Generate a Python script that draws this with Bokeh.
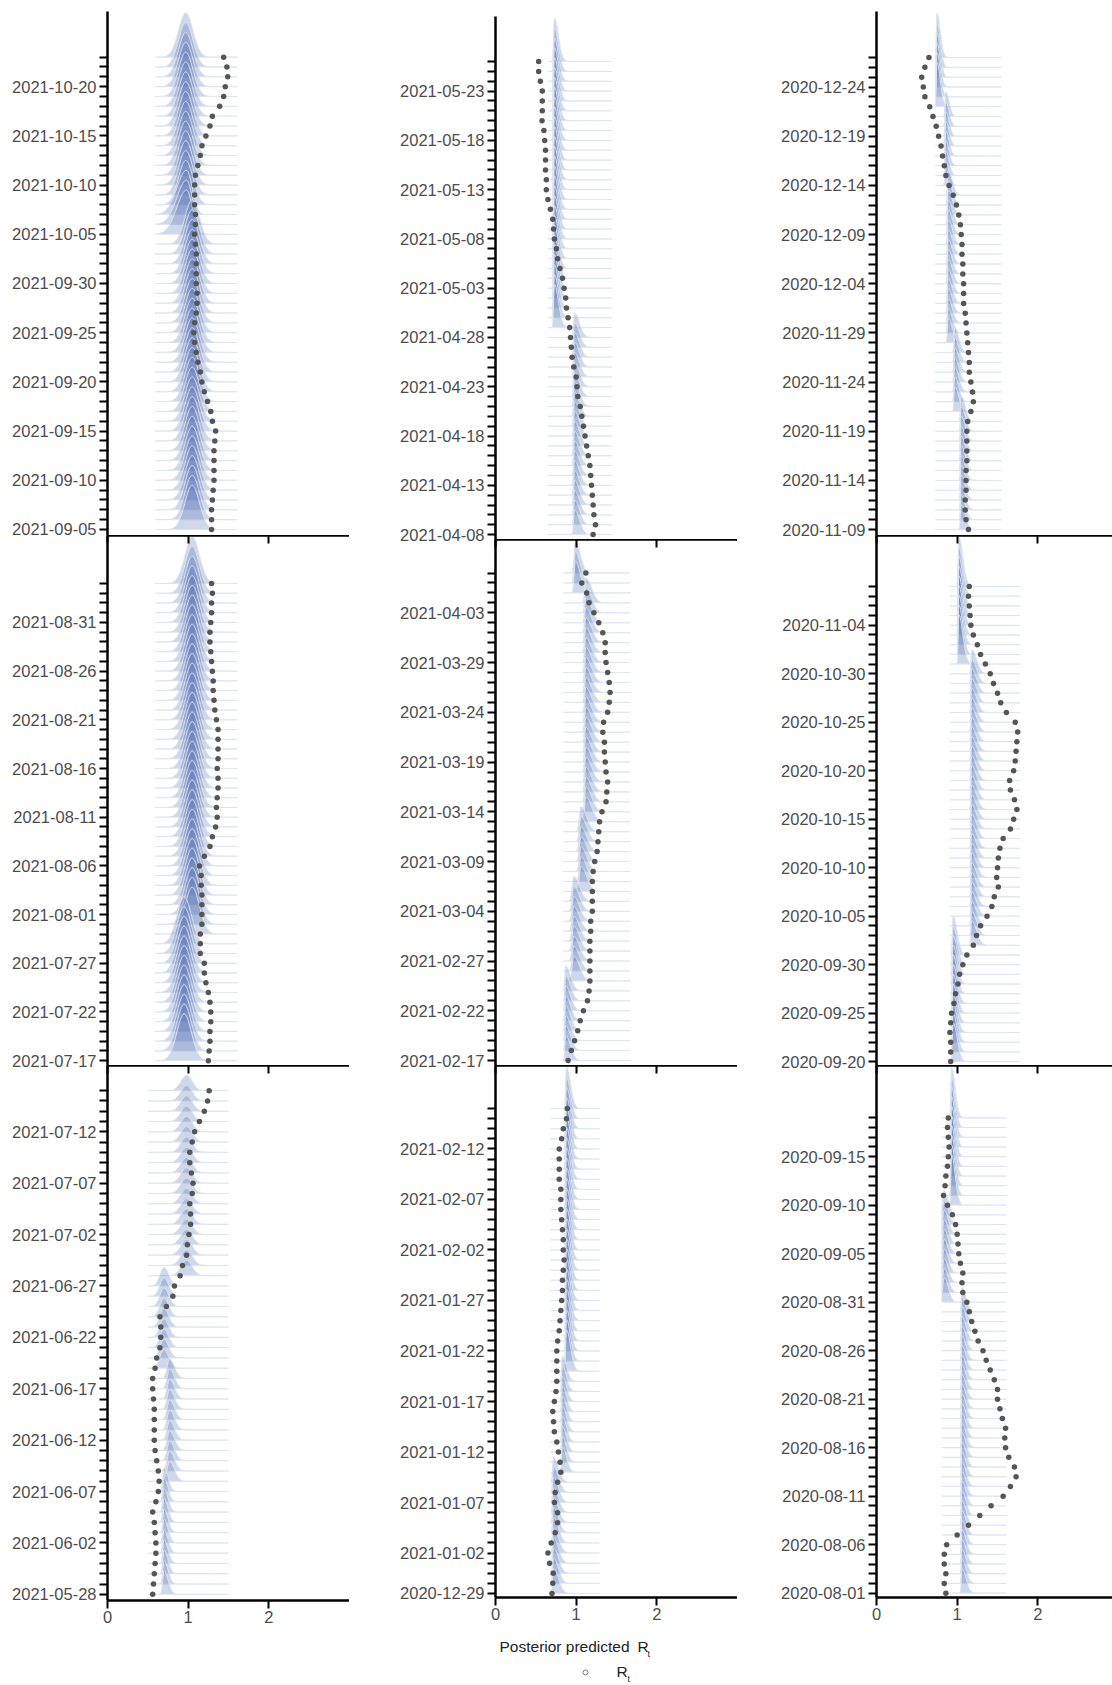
import datetime as dt
import numpy as np
from bokeh.plotting import figure
from bokeh.layouts import row, column
from bokeh.models import LinearAxis, FixedTicker, ColumnDataSource, Range1d
from bokeh.core.properties import value
from bokeh.embed import file_html
from bokeh.resources import INLINE

# ---------------- data ----------------
# observed R_t, one value per plotted day, oldest first
rt_2021_09_05 = [1.29, 1.29, 1.29, 1.30, 1.31, 1.32, 1.32, 1.32, 1.32, 1.33,
                 1.34, 1.30, 1.28, 1.24, 1.20, 1.17, 1.15, 1.12, 1.10, 1.08,
                 1.07, 1.08, 1.10, 1.11, 1.11, 1.10, 1.10, 1.10, 1.10, 1.09,
                 1.08, 1.09, 1.09, 1.08, 1.08, 1.08, 1.09, 1.12, 1.15, 1.17,
                 1.22, 1.27, 1.30, 1.39, 1.44, 1.46, 1.49, 1.48, 1.44]
rt_2021_07_17 = [1.25, 1.26, 1.27, 1.27, 1.28, 1.28, 1.27, 1.25, 1.22, 1.20,
                 1.20, 1.15, 1.15, 1.15, 1.17, 1.17, 1.17, 1.17, 1.16, 1.16,
                 1.14, 1.20, 1.27, 1.30, 1.34, 1.36, 1.35, 1.36, 1.37, 1.37,
                 1.36, 1.37, 1.37, 1.37, 1.37, 1.35, 1.33, 1.32, 1.31, 1.31,
                 1.30, 1.29, 1.28, 1.27, 1.27, 1.28, 1.29, 1.29, 1.30, 1.29]
rt_2021_05_28 = [0.56, 0.57, 0.58, 0.59, 0.60, 0.60, 0.59, 0.58, 0.56, 0.60,
                 0.63, 0.64, 0.63, 0.61, 0.59, 0.58, 0.58, 0.58, 0.58, 0.57,
                 0.56, 0.56, 0.59, 0.61, 0.65, 0.66, 0.66, 0.65, 0.73, 0.81,
                 0.83, 0.90, 0.93, 0.98, 0.99, 1.01, 1.03, 1.03, 1.02, 1.05,
                 1.06, 1.04, 1.02, 1.02, 1.05, 1.08, 1.14, 1.20, 1.24, 1.26]
rt_2021_04_08 = [1.21, 1.24, 1.22, 1.21, 1.20, 1.19, 1.18, 1.17, 1.15, 1.13,
                 1.11, 1.09, 1.07, 1.05, 1.02, 1.01, 1.00, 0.97, 0.95, 0.94,
                 0.93, 0.92, 0.90, 0.88, 0.87, 0.85, 0.83, 0.80, 0.77, 0.755,
                 0.73, 0.72, 0.71, 0.68, 0.65, 0.63, 0.63, 0.62, 0.62, 0.62,
                 0.61, 0.60, 0.577, 0.58, 0.58, 0.58, 0.556, 0.535, 0.535]
rt_2021_02_17 = [0.90, 0.94, 0.98, 1.02, 1.05, 1.09, 1.14, 1.16, 1.17, 1.17,
                 1.17, 1.17, 1.17, 1.18, 1.18, 1.20, 1.20, 1.20, 1.20, 1.21,
                 1.23, 1.26, 1.27, 1.28, 1.29, 1.32, 1.37, 1.38, 1.39, 1.37,
                 1.36, 1.35, 1.35, 1.33, 1.34, 1.39, 1.41, 1.42, 1.41, 1.39,
                 1.37, 1.36, 1.36, 1.33, 1.28, 1.22, 1.16, 1.13, 1.07, 1.12]
rt_2020_12_29 = [0.70, 0.71, 0.715, 0.67, 0.65, 0.69, 0.74, 0.77, 0.77, 0.73,
                 0.74, 0.77, 0.81, 0.80, 0.78, 0.76, 0.73, 0.72, 0.71, 0.73,
                 0.75, 0.76, 0.76, 0.76, 0.76, 0.77, 0.79, 0.80, 0.81, 0.82,
                 0.83, 0.83, 0.84, 0.85, 0.84, 0.84, 0.83, 0.82, 0.81,
                 0.81, 0.81, 0.79, 0.79, 0.79, 0.79, 0.82, 0.84, 0.88, 0.89]
rt_2020_11_09 = [1.14, 1.11, 1.10, 1.10, 1.11, 1.11, 1.11, 1.12, 1.12, 1.12,
                 1.12, 1.13, 1.17, 1.20, 1.19, 1.17, 1.15, 1.15, 1.14, 1.13,
                 1.12, 1.11, 1.10, 1.08, 1.08, 1.08, 1.07, 1.07, 1.06, 1.06,
                 1.05, 1.04, 1.02, 0.99, 0.95, 0.90, 0.86, 0.84, 0.82, 0.80,
                 0.77, 0.74, 0.70, 0.66, 0.60, 0.58, 0.56, 0.60, 0.65]
rt_2020_09_20 = [0.92, 0.92, 0.92, 0.91, 0.92, 0.93, 0.96, 0.98, 1.01, 1.03,
                 1.07, 1.12, 1.20, 1.24, 1.29, 1.37, 1.43, 1.46, 1.51, 1.49,
                 1.50, 1.51, 1.53, 1.57, 1.66, 1.70, 1.74, 1.71, 1.66, 1.65,
                 1.70, 1.72, 1.73, 1.74, 1.75, 1.72, 1.61, 1.54, 1.50, 1.45,
                 1.41, 1.35, 1.29, 1.25, 1.20, 1.17, 1.16, 1.15, 1.14, 1.15]
rt_2020_08_01 = [0.86, 0.84, 0.86, 0.84, 0.84, 0.87, 1.00, 1.14, 1.28, 1.42,
                 1.57, 1.66, 1.73, 1.71, 1.64, 1.60, 1.59, 1.60, 1.56, 1.53,
                 1.50, 1.50, 1.46, 1.41, 1.36, 1.32, 1.26, 1.22, 1.18, 1.15,
                 1.12, 1.07, 1.06, 1.07, 1.04, 1.02, 1.01, 1.00, 0.98, 0.94,
                 0.88, 0.83, 0.85, 0.86, 0.88, 0.89, 0.90, 0.89, 0.88, 0.89]

# panels in display order: column 1 top->bottom, column 2, column 3
panel_first_day = ["2021-09-05", "2021-07-17", "2021-05-28",
                   "2021-04-08", "2021-02-17", "2020-12-29",
                   "2020-11-09", "2020-09-20", "2020-08-01"]
panel_rt = [rt_2021_09_05, rt_2021_07_17, rt_2021_05_28,
            rt_2021_04_08, rt_2021_02_17, rt_2020_12_29,
            rt_2020_11_09, rt_2020_09_20, rt_2020_08_01]
# a day that has no row in the chart
missing_days = ["2021-01-30"]
# x-span of the posterior predicted densities in each panel
panel_span_lo = [0.59, 0.59, 0.50, 0.65, 0.84, 0.68, 0.73, 0.91, 0.81]
panel_span_hi = [1.61, 1.61, 1.50, 1.44, 1.67, 1.29, 1.55, 1.78, 1.61]

# labelled dates of the y axes
y_tick_labels = [
    "2021-09-05", "2021-09-10", "2021-09-15", "2021-09-20", "2021-09-25",
    "2021-09-30", "2021-10-05", "2021-10-10", "2021-10-15", "2021-10-20",
    "2021-07-17", "2021-07-22", "2021-07-27", "2021-08-01", "2021-08-06",
    "2021-08-11", "2021-08-16", "2021-08-21", "2021-08-26", "2021-08-31",
    "2021-05-28", "2021-06-02", "2021-06-07", "2021-06-12", "2021-06-17",
    "2021-06-22", "2021-06-27", "2021-07-02", "2021-07-07", "2021-07-12",
    "2021-04-08", "2021-04-13", "2021-04-18", "2021-04-23", "2021-04-28",
    "2021-05-03", "2021-05-08", "2021-05-13", "2021-05-18", "2021-05-23",
    "2021-02-17", "2021-02-22", "2021-02-27", "2021-03-04", "2021-03-09",
    "2021-03-14", "2021-03-19", "2021-03-24", "2021-03-29", "2021-04-03",
    "2020-12-29", "2021-01-02", "2021-01-07", "2021-01-12", "2021-01-17",
    "2021-01-22", "2021-01-27", "2021-02-02", "2021-02-07", "2021-02-12",
    "2020-11-09", "2020-11-14", "2020-11-19", "2020-11-24", "2020-11-29",
    "2020-12-04", "2020-12-09", "2020-12-14", "2020-12-19", "2020-12-24",
    "2020-09-20", "2020-09-25", "2020-09-30", "2020-10-05", "2020-10-10",
    "2020-10-15", "2020-10-20", "2020-10-25", "2020-10-30", "2020-11-04",
    "2020-08-01", "2020-08-06", "2020-08-11", "2020-08-16", "2020-08-21",
    "2020-08-26", "2020-08-31", "2020-09-05", "2020-09-10", "2020-09-15"]
x_tick_values = [0, 1, 2]

# posterior predicted R_t densities: blocks of days that share one density
ridge_first_day = ["2020-08-01", "2020-08-31", "2020-09-10",
                   "2020-09-20", "2020-10-02", "2020-10-31",
                   "2020-11-09", "2020-11-21", "2020-11-28", "2020-12-14", "2020-12-22",
                   "2020-12-29", "2021-01-10", "2021-01-20",
                   "2021-02-17", "2021-02-25", "2021-03-06", "2021-03-13", "2021-04-05",
                   "2021-04-08", "2021-04-29",
                   "2021-05-28", "2021-06-08", "2021-06-19", "2021-06-28",
                   "2021-07-17", "2021-07-30",
                   "2021-09-05", "2021-10-05", "2021-10-08"]
ridge_mode = [1.06, 0.84, 0.93,
              0.95, 1.18, 1.02,
              1.05, 0.97, 0.89, 0.86, 0.75,
              0.72, 0.83, 0.88,
              0.87, 0.97, 1.06, 1.12, 0.99,
              0.98, 0.73,
              0.70, 0.77, 0.70, 0.98,
              0.95, 1.05,
              1.05, 0.98, 0.97]
ridge_left = [0.008, 0.02, 0.008,
              0.01, 0.01, 0.008,
              0.01, 0.01, 0.01, 0.01, 0.008,
              0.012, 0.01, 0.01,
              0.01, 0.02, 0.02, 0.015, 0.015,
              0.012, 0.01,
              0.015, 0.03, 0.05, 0.07,
              0.09, 0.09,
              0.09, 0.12, 0.09]
ridge_right = [0.05, 0.05, 0.045,
               0.05, 0.06, 0.05,
               0.05, 0.05, 0.05, 0.04, 0.04,
               0.06, 0.05, 0.05,
               0.06, 0.07, 0.07, 0.07, 0.06,
               0.06, 0.05,
               0.05, 0.06, 0.06, 0.07,
               0.09, 0.09,
               0.09, 0.07, 0.09]
ridge_height = [2.5, 2.5, 5.2,
                4.0, 2.5, 5.1,
                2.5, 2.5, 2.5, 2.5, 4.5,
                2.5, 2.5, 4.1,
                2.5, 2.5, 2.5, 2.5, 3.2,
                2.5, 4.4,
                2.3, 1.9, 1.8, 1.5,
                4.8, 4.8,
                4.5, 4.5, 4.5]

# ---------------- layout (pixels / rows) ----------------
FRAME_Y = [[(11, 535), (535, 1065), (1065, 1600)],
           [(16, 539), (539, 1065), (1065, 1597)],
           [(11, 535), (535, 1065), (1065, 1597)]]
LEFT_BORDER = [107, 146, 139]
FRAME_W = [242, 242, 236]
PX_PER_UNIT = 80.67
EXT_TOP = [4.64, 4.93, 2.45, 4.57, 3.37, 4.26, 4.68, 5.26, 5.4]
EXT_BOT = [0.61, 0.5, 0.6, 0.5, 0.5, 0.4, 0.6, 0.4, 0.45]
GRID_BOTTOM = 1630       # where the row of panels ends (incl. x tick labels)
PAGE_W, PAGE_H = 1112, 1685
OVERLAP = 12             # room under a panel for its lowest date label

FONT = "Liberation Sans"
LABEL_COLOR = "#4d4d4d"
FILL = "#4d6bb0"

block_days = [dt.date.fromisoformat(d) for d in ridge_first_day]
skip = {dt.date.fromisoformat(d) for d in missing_days}
labelled = set(y_tick_labels)


def block_for(day):
    idx = 0
    for i, b in enumerate(block_days):
        if b <= day:
            idx = i
    return idx


def panel_dates(k):
    start = dt.date.fromisoformat(panel_first_day[k])
    out, d = [], start
    while len(out) < len(panel_rt[k]):
        if d not in skip:
            out.append(d)
        d += dt.timedelta(days=1)
    return out


def make_panel(k, col, rpos):
    dates = panel_dates(k)
    rts = panel_rt[k]
    n = len(rts)
    ftop, fbot = FRAME_Y[col][rpos]
    top_border = ftop if rpos == 0 else 0
    bottom_border = (GRID_BOTTOM - fbot) if rpos == 2 else OVERLAP
    height = (fbot - ftop) + top_border + bottom_border
    width = LEFT_BORDER[col] + FRAME_W[col]
    p = figure(width=width, height=height,
               x_range=(0, FRAME_W[col] / PX_PER_UNIT),
               y_range=(-EXT_BOT[k], n - 1 + EXT_TOP[k]),
               min_border_left=LEFT_BORDER[col], min_border_right=0,
               min_border_top=top_border, min_border_bottom=bottom_border,
               x_axis_location=None, y_axis_location=None,
               output_backend="svg", toolbar_location=None)
    if rpos < 2:
        p.margin = (0, 0, -OVERLAP, 0)
    p.grid.visible = False
    p.outline_line_color = None
    p.background_fill_alpha = 0
    p.border_fill_alpha = 0

    # ridges: top row first so lower rows are painted over
    lo, hi = panel_span_lo[k], panel_span_hi[k]
    xs_poly, ys_poly = [], []
    for i in range(n - 1, -1, -1):
        b = block_for(dates[i])
        m = ridge_mode[b]
        grid = np.linspace(lo, hi, 260)
        if lo < m < hi:
            grid = np.union1d(grid, [m])
        s = np.where(grid < m, ridge_left[b], ridge_right[b])
        curve = ridge_height[b] * np.exp(-0.5 * ((grid - m) / s) ** 2)
        xs_poly.append(np.concatenate([[lo], grid, [hi]]))
        ys_poly.append(np.concatenate([[i], i + curve, [i]]))
    p.patches(xs_poly, ys_poly, fill_color=FILL, fill_alpha=0.27,
              line_color="#dfe5f0", line_width=1)

    src = ColumnDataSource(dict(rt=rts, y=list(range(n))))
    p.scatter(x="rt", y="y", source=src, size=5.5,
              fill_color="#555555", line_color=None)

    # y axis: a tick on every row, labels on the labelled dates
    ticks = list(range(n))
    overrides = {i: (dates[i].isoformat() if dates[i].isoformat() in labelled else "")
                 for i in ticks}
    yax = LinearAxis(ticker=FixedTicker(ticks=ticks, minor_ticks=[]),
                     major_label_overrides=overrides,
                     axis_line_width=2.5, axis_line_color="black",
                     major_tick_out=8, major_tick_in=0,
                     major_tick_line_width=2, major_tick_line_color="black",
                     minor_tick_line_color=None,
                     major_label_standoff=3,
                     major_label_text_font=FONT,
                     major_label_text_font_size="16.5px",
                     major_label_text_color=LABEL_COLOR)
    p.add_layout(yax, "left")

    xt = FixedTicker(ticks=x_tick_values, minor_ticks=[])
    if rpos > 0:
        top_ax = LinearAxis(ticker=xt, axis_line_width=2.5, axis_line_color="black",
                            major_tick_out=0, major_tick_in=8,
                            major_tick_line_width=2, major_tick_line_color="black",
                            minor_tick_line_color=None,
                            major_label_standoff=0,
                            major_label_text_font_size="0px",
                            major_label_overrides={v: "" for v in x_tick_values})
        p.add_layout(top_ax, "above")
    if rpos == 2:
        bot_ax = LinearAxis(ticker=xt, axis_line_width=2.5, axis_line_color="black",
                            major_tick_out=8, major_tick_in=0,
                            major_tick_line_width=2, major_tick_line_color="black",
                            minor_tick_line_color=None,
                            major_label_standoff=2,
                            major_label_text_font=FONT,
                            major_label_text_font_size="16.5px",
                            major_label_text_color=LABEL_COLOR)
        p.add_layout(bot_ax, "below")
    return p


cols = []
for col in range(3):
    figs = [make_panel(col * 3 + rpos, col, rpos) for rpos in range(3)]
    cols.append(column(*figs, spacing=0))
grid_row = row(*cols, spacing=0)

# footer: x-axis title and legend (footer coordinates are page pixels)
fh = PAGE_H - GRID_BOTTOM
foot = figure(width=PAGE_W, height=fh,
              x_range=Range1d(0, PAGE_W), y_range=Range1d(PAGE_H, GRID_BOTTOM),
              min_border=0, x_axis_location=None, y_axis_location=None,
              output_backend="svg", toolbar_location=None)
foot.grid.visible = False
foot.outline_line_color = None


def put(txt, x, y, size, color="#222222", font=FONT):
    foot.text(x=[x], y=[y], text=[txt], text_font=value(font), text_font_size=size,
              text_color=color, text_align="left", text_baseline="middle")


put("Posterior predicted", 499, 1646, "15.5px")
put("R", 637, 1646, "15.5px")
put("t", 647, 1653, "9px")
foot.scatter(x=[585], y=[1672], marker="circle", size=5,
             fill_color=None, line_color="#777777", line_width=1)
put("R", 616, 1671, "15.5px")
put("t", 627, 1678, "9px")

layout = column(grid_row, foot, spacing=0)
open("out.html", "w").write(file_html(layout, INLINE))
